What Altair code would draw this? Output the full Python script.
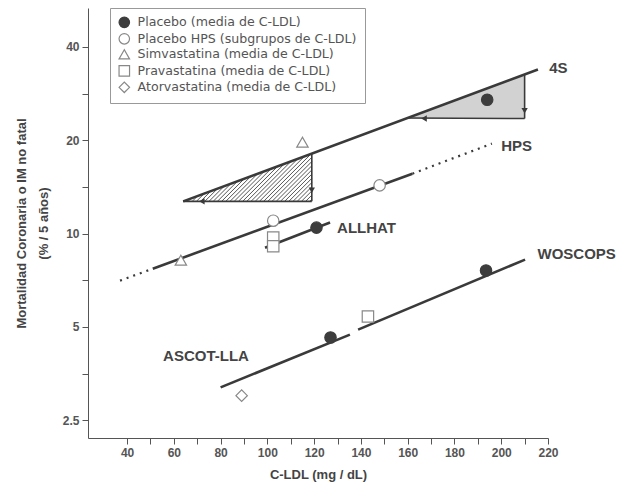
import math
import altair as alt
import pandas as pd

# ---------------- data ----------------
legend_labels = [
    "Placebo (media de C-LDL)",
    "Placebo HPS (subgrupos de C-LDL)",
    "Simvastatina (media de C-LDL)",
    "Pravastatina (media de C-LDL)",
    "Atorvastatina (media de C-LDL)",
]

pt_series = [legend_labels[0]] * 4 + [legend_labels[1]] * 2 + [legend_labels[2]] * 2 + [legend_labels[3]] * 3 + [legend_labels[4]]
pt_x = [194, 121, 127, 193.5, 102.5, 148, 115, 63, 102.5, 102.5, 143, 89]
pt_y = [27.0, 10.45, 4.62, 7.6, 11.0, 14.3, 19.7, 8.2, 9.7, 9.1, 5.4, 3.0]

line_4s_x = [64, 215.7]
line_4s_y = [12.7, 33.8]
hps_solid_x = [51, 162]
hps_solid_y = [7.7, 15.6]
hps_dot_left_x = [37, 51]
hps_dot_left_y = [7.05, 7.7]
hps_dot_right_x = [162, 196]
hps_dot_right_y = [15.6, 19.5]
allhat_x = [99, 126.8]
allhat_y = [9.0, 10.85]
ascot_x = [80, 135.3]
ascot_y = [3.19, 4.72]
woscops_x = [138.8, 210.2]
woscops_y = [4.9, 8.24]

# 4S triangles (simvastatin effect)
hatch_tri_x = [64, 119, 119]
hatch_tri_y = [12.7, 18.1, 12.7]
gray_tri_x = [160, 210, 210]
gray_tri_y = [23.6, 32.6, 23.5]

arrow_left_x = [72, 167]
arrow_left_y = [12.7, 23.5]
arrow_down_x = [119, 210]
arrow_down_y = [13.8, 24.9]

study_names = ["4S", "HPS", "ALLHAT", "WOSCOPS", "ASCOT-LLA"]
study_x = [220.5, 200, 129.8, 215.5, 55.4]
study_y = [34.3, 19.2, 10.45, 8.6, 4.04]

x_ticks = list(range(40, 221, 10))
y_ticks = [2.5, 3.5355, 5, 7.0711, 10, 14.142, 20, 28.284, 40]
y_labels = ["2.5", "5", "10", "20", "40"]

# ---------------- layout ----------------
W, H = 460, 430
XDOM = [23.3, 220]
YDOM = [2.19, 53.4]
DARK = "#3a3a3a"
GRAY = "#555555"

xscale = alt.Scale(domain=XDOM, nice=False, zero=False)
yscale = alt.Scale(type="log", domain=YDOM, nice=False)

xaxis = alt.Axis(
    values=x_ticks,
    labelExpr="datum.value % 20 == 0 ? datum.label : ''",
    grid=False, domainColor=GRAY, tickColor=GRAY, tickSize=6,
    labelFont="Liberation Sans", labelFontSize=12, labelFontWeight="bold", labelColor=GRAY,
    labelPadding=3, labelFlush=False,
    title="C-LDL (mg / dL)", titleFont="Liberation Sans", titleFontSize=13,
    titleFontWeight="bold", titleColor="#444", titlePadding=10,
)
ylab_expr = " : ".join(
    [f"abs(datum.value - {v}) < 0.001 ? '{v}'" for v in y_labels]
) + " : ''"
yaxis = alt.Axis(
    values=y_ticks, labelExpr=ylab_expr,
    grid=False, domainColor=GRAY, tickColor=GRAY, tickSize=6,
    labelFont="Liberation Sans", labelFontSize=12, labelFontWeight="bold", labelColor=GRAY,
    labelPadding=3, labelFlush=False,
    title=["Mortalidad Coronaria o IM no fatal", "(% / 5 años)"],
    titleFont="Liberation Sans", titleFontSize=13, titleFontWeight="bold",
    titleColor="#444", titlePadding=12, titleLineHeight=22,
)


def X(f="x"):
    return alt.X(f"{f}:Q", scale=xscale, axis=xaxis)


def Y(f="y"):
    return alt.Y(f"{f}:Q", scale=yscale, axis=yaxis)


# ---------------- tables ----------------
def seg_df(name, xs, ys):
    return pd.DataFrame({"seg": name, "x": xs, "y": ys})

solid = pd.concat([
    seg_df("4S", line_4s_x, line_4s_y),
    seg_df("HPS", hps_solid_x, hps_solid_y),
    seg_df("ALLHAT", allhat_x, allhat_y),
    seg_df("ASCOT", ascot_x, ascot_y),
    seg_df("WOSCOPS", woscops_x, woscops_y),
])
dotted = pd.concat([
    seg_df("L", hps_dot_left_x, hps_dot_left_y),
    seg_df("R", hps_dot_right_x, hps_dot_right_y),
])

edges = pd.DataFrame({
    "x": [hatch_tri_x[1], hatch_tri_x[2], gray_tri_x[1], gray_tri_x[2]],
    "y": [hatch_tri_y[1], hatch_tri_y[2], gray_tri_y[1], gray_tri_y[2]],
    "x2": [hatch_tri_x[2], hatch_tri_x[0], gray_tri_x[2], gray_tri_x[0]],
    "y2": [hatch_tri_y[2], hatch_tri_y[0], gray_tri_y[2], gray_tri_y[0]],
})

gray_area = pd.DataFrame({
    "x": [gray_tri_x[0], gray_tri_x[1]],
    "y": [gray_tri_y[0], gray_tri_y[1]],
    "y2": [gray_tri_y[2], gray_tri_y[2]],
})

# hatch lines inside the hatched triangle ("/" at 45 degrees on screen)
kx = W / (XDOM[1] - XDOM[0])
ky = H / (math.log2(YDOM[1]) - math.log2(YDOM[0]))
uA, vA = hatch_tri_x[0] * kx, math.log2(hatch_tri_y[0]) * ky
uC, vC = hatch_tri_x[1] * kx, math.log2(hatch_tri_y[1]) * ky
uB = hatch_tri_x[2] * kx
m = (vC - vA) / (uC - uA)
hx, hy, hx2, hy2 = [], [], [], []
c = (vA - uB) + 2.0
while c < vA - uA:
    u1, v1 = vA - c, vA
    u2 = (vA - m * uA - c) / (1 - m)
    if u2 > uB:
        u2 = uB
    v2 = u2 + c
    hx.append(u1 / kx); hy.append(2 ** (v1 / ky))
    hx2.append(u2 / kx); hy2.append(2 ** (v2 / ky))
    c += 4.2
hatch = pd.DataFrame({"x": hx, "y": hy, "x2": hx2, "y2": hy2})

pts = pd.DataFrame({"series": pt_series, "x": pt_x, "y": pt_y})
arrows_l = pd.DataFrame({"x": arrow_left_x, "y": arrow_left_y})
arrows_d = pd.DataFrame({"x": arrow_down_x, "y": arrow_down_y})
labels = pd.DataFrame({"name": study_names, "x": study_x, "y": study_y})

# ---------------- layers ----------------
area_layer = alt.Chart(gray_area).mark_area(color="#d2d2d2", opacity=1).encode(
    x=X(), y=Y(), y2=alt.Y2("y2:Q"))

hatch_layer = alt.Chart(hatch).mark_rule(color="#555", strokeWidth=1).encode(
    x=X(), y=Y(), x2=alt.X2("x2:Q"), y2=alt.Y2("y2:Q"))

edge_layer = alt.Chart(edges).mark_rule(color=DARK, strokeWidth=1.6).encode(
    x=X(), y=Y(), x2=alt.X2("x2:Q"), y2=alt.Y2("y2:Q"))

solid_layer = alt.Chart(solid).mark_line(color=DARK, strokeWidth=2.6).encode(
    x=X(), y=Y(), detail="seg:N")

dotted_layer = alt.Chart(dotted).mark_line(color=DARK, strokeWidth=2.2, strokeDash=[2, 5]).encode(
    x=X(), y=Y(), detail="seg:N")

arrow_l_layer = alt.Chart(arrows_l).mark_point(
    filled=True, size=40, color=DARK, opacity=1, shape="triangle-left").encode(x=X(), y=Y())
arrow_d_layer = alt.Chart(arrows_d).mark_point(
    filled=True, size=40, color=DARK, opacity=1, shape="triangle-down").encode(x=X(), y=Y())

leg = alt.Legend(
    title=None, orient="none", legendX=22, legendY=0,
    strokeColor="#999", fillColor="white", padding=8,
    labelFont="DejaVu Sans", labelFontSize=12.6, labelColor="#555",
    labelLimit=400, symbolSize=110, symbolStrokeWidth=1.2, rowPadding=0.5,
    labelOffset=7,
)
pt_fill = ["#3d3d3d", "white", "white", "white", "white"]
pt_stroke = ["#3d3d3d", "#888888", "#888888", "#888888", "#888888"]
pt_shape = ["circle", "circle", "triangle-up", "square", "diamond"]

point_layer = alt.Chart(pts).mark_point(filled=True, size=130, strokeWidth=1.2, opacity=1).encode(
    x=X(), y=Y(),
    shape=alt.Shape("series:N", scale=alt.Scale(domain=legend_labels, range=pt_shape), legend=leg),
    fill=alt.Fill("series:N", scale=alt.Scale(domain=legend_labels, range=pt_fill), legend=leg),
    stroke=alt.Stroke("series:N", scale=alt.Scale(domain=legend_labels, range=pt_stroke), legend=leg),
)

text_layer = alt.Chart(labels).mark_text(
    align="left", baseline="middle", font="Liberation Sans", fontSize=15,
    fontWeight="bold", color="#444").encode(x=X(), y=Y(), text="name:N")

chart = alt.layer(
    area_layer, hatch_layer, edge_layer, solid_layer, dotted_layer,
    arrow_l_layer, arrow_d_layer, point_layer, text_layer,
).properties(
    width=W, height=H,
    padding={"left": 88, "top": 8, "right": 75, "bottom": 54},
    autosize=alt.AutoSizeParams(type="none"),
    background="white",
).configure_view(stroke=None)

chart.save("out.html", embed_options={"renderer": "svg", "actions": False})
